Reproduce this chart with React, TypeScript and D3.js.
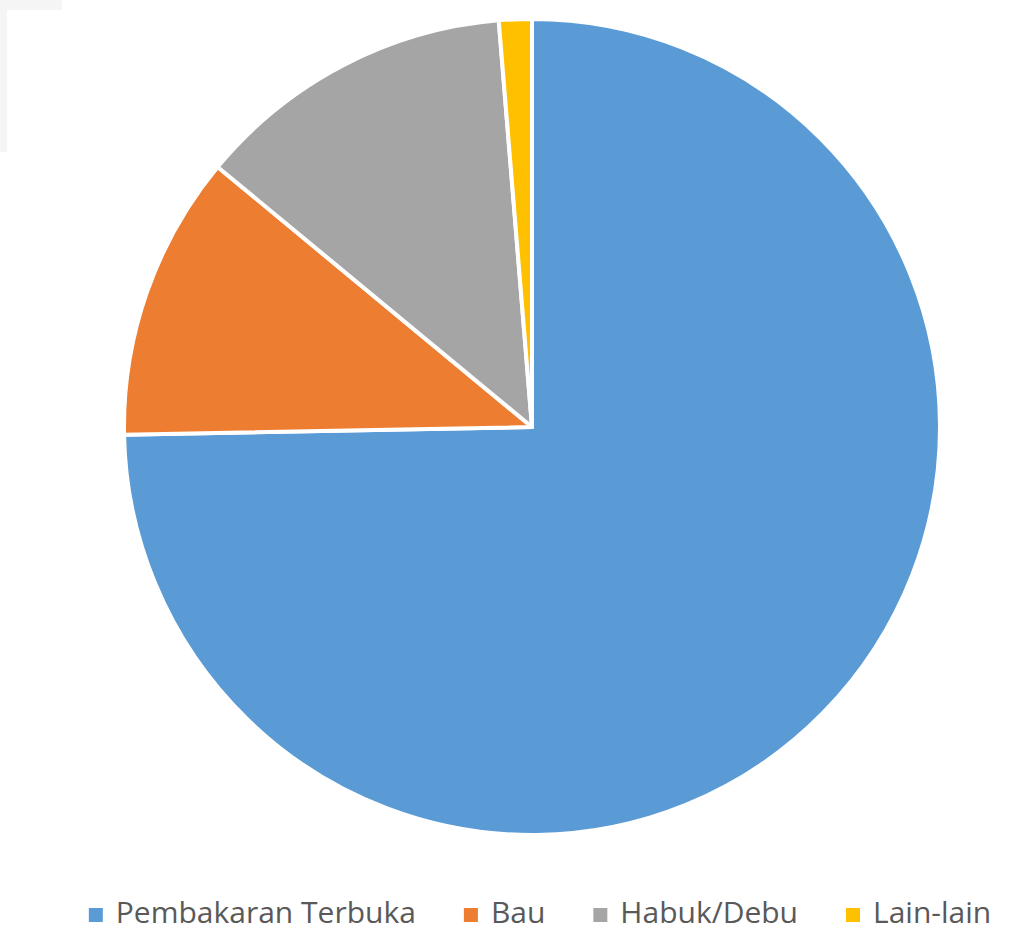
import React, { useEffect, useRef } from "react";
import * as d3 from "d3";

// slice data (share in %)
const categories = ["Pembakaran Terbuka", "Bau", "Habuk/Debu", "Lain-lain"];
const values = [74.7, 11.3, 12.7, 1.3];
const colors = ["#5B9BD5", "#ED7D31", "#A5A5A5", "#FFC000"];

const W = 1035;
const H = 931;

export default function App() {
  const svgRef = useRef<SVGSVGElement>(null);

  useEffect(() => {
    const svg = d3.select(svgRef.current);
    svg.selectAll("*").remove();

    // faint frame left over from the screenshot
    svg.append("rect").attr("x", 0).attr("y", 0).attr("width", W).attr("height", H).attr("fill", "#fff");
    svg.append("rect").attr("x", 0).attr("y", 0).attr("width", 7).attr("height", 152).attr("fill", "#f5f5f5");
    svg.append("rect").attr("x", 0).attr("y", 0).attr("width", 62).attr("height", 10).attr("fill", "#f5f5f5");

    const cx = 532;
    const cy = 427;
    const r = 408;

    const data = categories.map((c, i) => ({ name: c, value: values[i], color: colors[i] }));
    const pie = d3.pie<any>().sort(null).value((d) => d.value);
    const arc = d3.arc<any>().innerRadius(0).outerRadius(r);

    const g = svg.append("g").attr("transform", `translate(${cx},${cy})`);
    g.selectAll("path")
      .data(pie(data))
      .join("path")
      .attr("d", arc)
      .attr("fill", (d) => d.data.color)
      .attr("stroke", "#fff")
      .attr("stroke-width", 4)
      .attr("stroke-linejoin", "round");

    // legend, laid out from measured text widths
    const fs = 30;
    const sq = 14;
    const gapSqText = 13;
    const gapItems = 48;
    const legendY = 923;
    const legend = svg.append("g");
    const items = legend
      .selectAll("g")
      .data(data)
      .join("g");
    items
      .append("rect")
      .attr("width", sq)
      .attr("height", sq)
      .attr("y", legendY - sq - 1)
      .attr("fill", (d) => d.color);
    const texts = items
      .append("text")
      .attr("x", sq + gapSqText)
      .attr("y", legendY)
      .attr("font-family", "'Open Sans', sans-serif")
      .attr("font-size", fs)
      .attr("fill", "#595959")
      .text((d) => d.name);

    const widths: number[] = [];
    texts.each(function () {
      widths.push((this as SVGTextElement).getComputedTextLength());
    });
    const itemW = widths.map((w) => sq + gapSqText + w);
    const total = d3.sum(itemW) + gapItems * (itemW.length - 1);
    let x = 540 - total / 2;
    items.attr("transform", (_d, i) => {
      const t = `translate(${x},0)`;
      x += itemW[i] + gapItems;
      return t;
    });
  }, []);

  return (
    <svg
      ref={svgRef}
      width={W}
      height={H}
      style={{ position: "absolute", left: 0, top: 0 }}
    />
  );
}
